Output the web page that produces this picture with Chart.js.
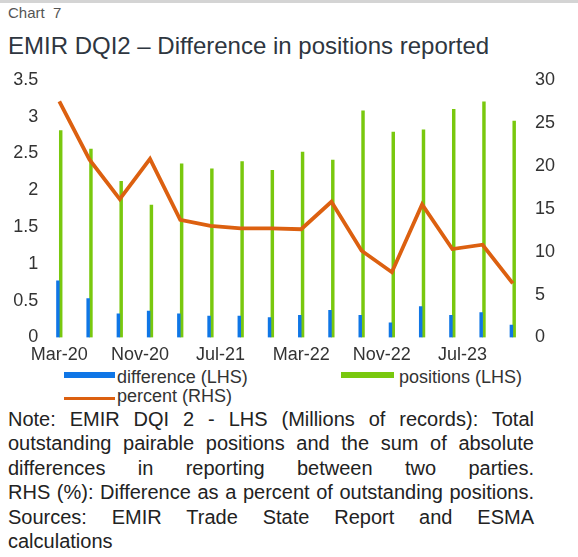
<!DOCTYPE html>
<html>
<head>
<meta charset="utf-8">
<script src="https://cdn.jsdelivr.net/npm/chart.js@4/dist/chart.umd.min.js"></script>
<style>
  html, body { margin: 0; padding: 0; background: #fff; }
  body { width: 578px; height: 557px; position: relative; overflow: hidden;
         font-family: "Liberation Sans", Arial, sans-serif; }
  .topline { position: absolute; left: 0; top: 0; width: 578px; height: 3px; background: #d4d4d4; }
  .kicker { position: absolute; left: 8px; top: 4px; font-size: 15px; color: #555; }
  .title { position: absolute; left: 8px; top: 32px; font-size: 24px; color: #2e3640; white-space: nowrap; }
  #wrap { position: absolute; left: 0; top: 62px; width: 578px; height: 305px; }
  .leg { position: absolute; font-size: 18px; color: #333; line-height: 20px; white-space: nowrap; }
  .sw { position: absolute; }
  .note { position: absolute; left: 8px; top: 407px; width: 526px; font-size: 20px;
          line-height: 24.4px; color: #222; }
  .note div { text-align: justify; text-align-last: justify; white-space: nowrap; }
  .note div.last { text-align-last: left; }
</style>
</head>
<body>
<div class="topline"></div>
<div class="kicker">Chart&nbsp;&nbsp;7</div>
<div class="title">EMIR DQI2 – Difference in positions reported</div>
<div id="wrap"><canvas id="chart7"></canvas></div>
<div id="legend"></div>
<div class="note">
  <div>Note: EMIR DQI 2 - LHS (Millions of records): Total</div>
  <div>outstanding pairable positions and the sum of absolute</div>
  <div>differences in reporting between two parties.</div>
  <div>RHS (%): Difference as a percent of outstanding positions.</div>
  <div>Sources: EMIR Trade State Report and ESMA</div>
  <div class="last">calculations</div>
</div>
<script>
// quarterly observations, Mar-20 .. Dec-23
var quarters = ['Mar-20', 'Jun-20', 'Sep-20', 'Dec-20', 'Mar-21', 'Jun-21', 'Sep-21', 'Dec-21',
                'Mar-22', 'Jun-22', 'Sep-22', 'Dec-22', 'Mar-23', 'Jun-23', 'Sep-23', 'Dec-23'];
var difference = [0.77, 0.53, 0.32, 0.36, 0.32, 0.29, 0.29, 0.27,
                  0.30, 0.37, 0.30, 0.20, 0.42, 0.30, 0.34, 0.17];
var positions = [2.81, 2.56, 2.12, 1.80, 2.36, 2.29, 2.39, 2.27,
                 2.52, 2.41, 3.08, 2.79, 2.82, 3.10, 3.20, 2.94];
var percent = [27.5, 20.7, 16.1, 20.8, 13.7, 13.0, 12.7, 12.7,
               12.6, 15.8, 10.1, 7.6, 15.5, 10.3, 10.8, 6.3];
// date axis labels (every 8 months), in months since Mar-20
var tickLabels = ['Mar-20', 'Nov-20', 'Jul-21', 'Mar-22', 'Nov-22', 'Jul-23'];
var tickMonths = [0, 8, 16, 24, 32, 40];

var BLUE = '#0f76e6', GREEN = '#79c80e', ORANGE = '#dc6010';

function monthOf(label) {
  var names = ['Jan','Feb','Mar','Apr','May','Jun','Jul','Aug','Sep','Oct','Nov','Dec'];
  var m = names.indexOf(label.slice(0, 3));
  var y = 2000 + parseInt(label.slice(4), 10);
  return (y - 2020) * 12 + m - 2;
}
function points(vals) {
  return vals.map(function (v, i) { return { x: monthOf(quarters[i]), y: v }; });
}
function plain(v) { return String(v); }

var tickFont = { family: '"Liberation Sans", Arial, sans-serif', size: 18 };

var config = {
  type: 'bar',
  data: {
    datasets: [
      { type: 'line', label: 'percent (RHS)', data: points(percent), yAxisID: 'y1',
        borderColor: ORANGE, borderWidth: 3.8, pointRadius: 0, tension: 0, order: 0 },
      { label: 'difference (LHS)', data: points(difference), yAxisID: 'y',
        backgroundColor: BLUE, barThickness: 2.8, order: 1 },
      { label: 'positions (LHS)', data: points(positions), yAxisID: 'y',
        backgroundColor: GREEN, barThickness: 2.8, order: 1 }
    ]
  },
  options: {
    responsive: true,
    maintainAspectRatio: false,
    animation: false,
    layout: { padding: { top: 11, left: 0, right: 0, bottom: 0 } },
    plugins: { legend: { display: false }, tooltip: { enabled: false } },
    scales: {
      x: {
        type: 'linear', min: -1.5, max: 46.5, offset: false,
        grid: { display: false, drawTicks: false }, border: { display: false },
        ticks: {
          font: tickFont, color: '#333', padding: 7, maxRotation: 0, autoSkip: false,
          callback: function (v) {
            var k = tickMonths.indexOf(v);
            return k < 0 ? '' : tickLabels[k];
          }
        },
        afterBuildTicks: function (s) {
          s.ticks = tickMonths.map(function (m) { return { value: m }; });
        },
        afterFit: function (s) { s.height = 29.5; }
      },
      y: {
        position: 'left', min: 0, max: 3.5,
        grid: { display: false, drawTicks: false }, border: { display: false },
        ticks: { stepSize: 0.5, font: tickFont, color: '#333', padding: 6, callback: plain },
        afterFit: function (s) { s.width = 44.2; }
      },
      y1: {
        position: 'right', min: 0, max: 30,
        grid: { display: false, drawTicks: false }, border: { display: false },
        ticks: { stepSize: 5, font: tickFont, color: '#333', padding: 7, callback: plain },
        afterFit: function (s) { s.width = 50.1; }
      }
    }
  }
};

window.addEventListener('load', function () {
  var ctx = document.getElementById('chart7').getContext('2d');
  var chart = new Chart(ctx, config);

  // legend laid out like the original: two columns, percent on its own row
  var slots = [
    { ds: 1, box: [64, 372, 51, 6], text: [117, 367] },
    { ds: 2, box: [341, 372, 53, 6], text: [399, 367] },
    { ds: 0, box: [64, 397, 51, 3], text: [117, 386] }
  ];
  var legend = document.getElementById('legend');
  slots.forEach(function (s) {
    var d = chart.data.datasets[s.ds];
    var sw = document.createElement('div');
    sw.className = 'sw';
    sw.style.left = s.box[0] + 'px'; sw.style.top = s.box[1] + 'px';
    sw.style.width = s.box[2] + 'px'; sw.style.height = s.box[3] + 'px';
    sw.style.background = d.type === 'line' ? d.borderColor : d.backgroundColor;
    legend.appendChild(sw);
    var t = document.createElement('div');
    t.className = 'leg';
    t.style.left = s.text[0] + 'px'; t.style.top = s.text[1] + 'px';
    t.textContent = d.label;
    legend.appendChild(t);
  });
});
</script>
</body>
</html>
